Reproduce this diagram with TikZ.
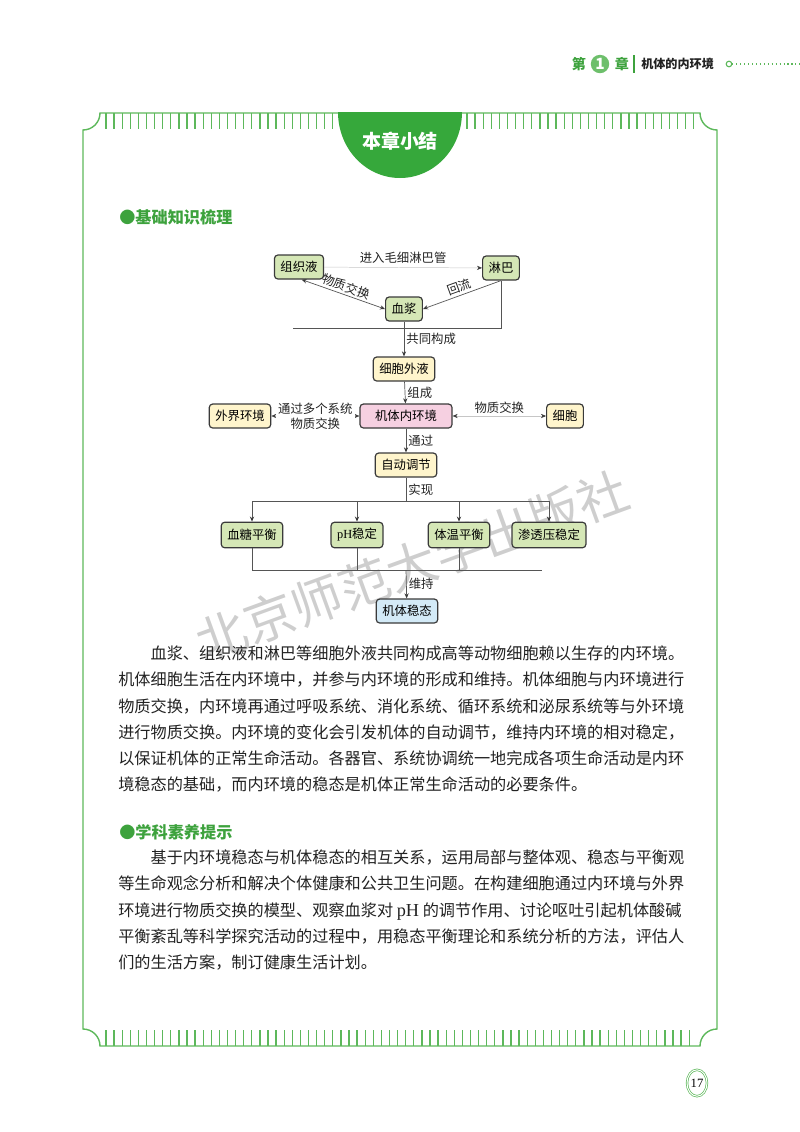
\documentclass[tikz,border=0pt]{standalone}
\usepackage{fontspec}
\usepackage{xcolor}
\usepackage{tikz}
\usetikzlibrary{arrows.meta,shapes.geometric}
\setmainfont{Noto Sans CJK SC}
\newfontfamily\latinserif{Liberation Serif}
\definecolor{framegreen}{HTML}{5DB85B}
\definecolor{tabgreen}{HTML}{36A83B}
\definecolor{headgreen}{HTML}{3DA23D}
\definecolor{leaf}{HTML}{D5E7B6}
\definecolor{cream}{HTML}{FFF5CC}
\definecolor{blush}{HTML}{F6D0E1}
\definecolor{icy}{HTML}{D3EAF7}
\definecolor{boxline}{HTML}{3A3A3A}
\definecolor{wire}{HTML}{555555}
\definecolor{inktext}{HTML}{222222}
\newcommand\diagfont{\fontsize{8.8pt}{10.5pt}\selectfont}
\newcommand\bodyfont{\fontsize{11.5pt}{18.5pt}\selectfont}
\tikzset{
  box/.style={draw=boxline,line width=0.85pt,rounded corners=2.5pt,minimum height=0.6cm,
              inner xsep=0.15cm,inner ysep=0pt,font=\diagfont},
  gbox/.style={box,fill=leaf},
  ybox/.style={box,fill=cream},
  lnk/.style={draw=wire,line width=0.5pt},
  faint/.style={draw=gray!45,line width=0.35pt},
  arr/.style={lnk,-{Stealth[length=3.6pt,width=3pt,color=boxline]}},
  twoway/.style={lnk,{Stealth[length=3.6pt,width=3pt,color=boxline]}-{Stealth[length=3.6pt,width=3pt,color=boxline]}},
  lbl/.style={font=\diagfont,inner sep=1.5pt,text=inktext},
  tick/.style={framegreen,line width=0.9pt},
  head/.style={font=\fontsize{11.5pt}{13pt}\selectfont\bfseries,text=headgreen,inner sep=0pt},
  para/.style={font=\bodyfont,text=inktext,align=left,inner sep=0pt,anchor=north west},
  stamp/.style={font=\fontsize{36pt}{40pt}\selectfont,text=black!35,opacity=0.55},
}
\begin{document}
\begin{tikzpicture}[x=0.025cm,y=-0.025cm]
  \useasboundingbox (0,0) rectangle (800,1132);
  % running head
  \node[font=\fontsize{10pt}{11pt}\selectfont\bfseries,text=headgreen] (di) at (579,64) {第};
  \node[circle,fill=framegreen!90,inner sep=0pt,minimum size=0.46cm,text=white,
        font=\fontsize{11pt}{12pt}\selectfont\bfseries] (num) at (600,64) {1};
  \node[font=\fontsize{10pt}{11pt}\selectfont\bfseries,text=headgreen] (zhang) at (622,64) {章};
  \draw[headgreen,line width=1pt] (634,55) -- (634,73);
  \node[anchor=west,font=\fontsize{8.6pt}{10pt}\selectfont\bfseries,text=inktext,inner sep=0pt] (ctitle) at (641,64) {机体的内环境};
  \node[circle,draw=framegreen,line width=0.8pt,inner sep=0pt,minimum size=0.14cm] (dotend) at (729,64) {};
  \coordinate (pageedge) at (800,64);
  \draw[framegreen,dotted,line width=0.8pt] (dotend) -- (pageedge);
  % frame
  \draw[framegreen,line width=1pt] (83,1029) -- (83,130) .. controls (92.4,130) and (100,122.4) .. (100,113)
    -- (700,113) .. controls (700,122.4) and (707.6,130) .. (717,130) -- (717,1029)
    .. controls (707.6,1029) and (700,1036.6) .. (700,1046) -- (100,1046)
    .. controls (100,1036.6) and (92.4,1029) .. (83,1029) -- cycle;
  \foreach \x in {106,114.1,...,336} \draw[tick] (\x,113) -- (\x,129);
  \foreach \x in {467,475.1,...,697} \draw[tick] (\x,113) -- (\x,129);
  \foreach \x in {106,114.1,...,697} \draw[tick] (\x,1030) -- (\x,1046);
  \fill[tabgreen] (338,112) .. controls (338,149) and (366,178) .. (400,178)
    .. controls (434,178) and (462,149) .. (462,112) -- cycle;
  \node[text=white,font=\fontsize{13.5pt}{15pt}\selectfont\bfseries] (title) at (400,141) {本章小结};
  \node[stamp,rotate=20] (press) at (412,566) {北京师范大学出版社};
  \node[head,anchor=west] (basics) at (119,217) {●基础知识梳理};
  % concept map
  \node[gbox] (tissue) at (299,267) {组织液};
  \node[gbox] (lymph) at (501,268) {淋巴};
  \node[gbox] (plasma) at (404,309) {血浆};
  \node[ybox] (extra) at (404,369) {细胞外液};
  \node[box,fill=blush,minimum width=2.3cm] (inner) at (406,416) {机体内环境};
  \node[ybox] (outside) at (240,416) {外界环境};
  \node[ybox] (cell) at (565,416) {细胞};
  \node[ybox] (regul) at (406,465) {自动调节};
  \foreach \n/\t/\x in {sugar/血糖平衡/252, ph/{{\latinserif pH}稳定}/357, temp/体温平衡/459, osmo/渗透压稳定/549}
    \node[gbox,minimum height=0.64cm] (\n) at (\x,535) {\t};
  \node[box,fill=icy] (steady) at (407,611) {机体稳态};
  \draw[faint,-{Stealth[length=3.6pt,width=3pt,color=boxline]}] (tissue) -- (lymph)
    node[lbl,above,midway,yshift=1pt] {进入毛细淋巴管};
  \draw[twoway] (tissue.-78) -- (plasma.west) node[lbl,sloped,above,midway] {物质交换};
  \draw[arr] (lymph.south) -- (plasma.east) node[lbl,sloped,above,midway] {回流};
  \coordinate (cross) at (293,328);
  \draw[lnk] (lymph.south) |- (cross);
  \draw[arr] (plasma) -- (extra) node[lbl,right,midway] {共同构成};
  \draw[arr] (extra) -- (inner) node[lbl,right,midway] {组成};
  \draw[faint,{Stealth[length=3.6pt,width=3pt,color=boxline]}-{Stealth[length=3.6pt,width=3pt,color=boxline]}]
    (outside) -- (inner) node[lbl,fill=white,align=center,midway] {通过多个系统\\物质交换};
  \draw[faint,{Stealth[length=3.6pt,width=3pt,color=boxline]}-{Stealth[length=3.6pt,width=3pt,color=boxline]}]
    (inner) -- (cell) node[lbl,above,midway] {物质交换};
  \draw[arr] (inner) -- (regul) node[lbl,right,midway] {通过};
  \coordinate (split) at (406,501);
  \draw[lnk] (regul) -- (split) node[lbl,right,midway] {实现};
  \draw[lnk] (sugar.north |- split) -- (osmo.north |- split);
  \foreach \n in {sugar,ph,temp,osmo} \draw[arr] (\n.north |- split) -- (\n.north);
  \coordinate (join) at (406,570);
  \coordinate (joinend) at (542,570);
  \foreach \n in {sugar,ph,temp} \draw[lnk] (\n.south) -- (\n.south |- join);
  \draw[lnk] (sugar.south |- join) -- (joinend);
  \draw[arr] (join) -- (steady) node[lbl,right,midway] {维持};
  % summary text
  \node[para] (summary) at (118,646) {\hspace*{2em}血浆、组织液和淋巴等细胞外液共同构成高等动物细胞赖以生存的内环境。\\%
机体细胞生活在内环境中，并参与内环境的形成和维持。机体细胞与内环境进行\\%
物质交换，内环境再通过呼吸系统、消化系统、循环系统和泌尿系统等与外环境\\%
进行物质交换。内环境的变化会引发机体的自动调节，维持内环境的相对稳定，\\%
以保证机体的正常生命活动。各器官、系统协调统一地完成各项生命活动是内环\\%
境稳态的基础，而内环境的稳态是机体正常生命活动的必要条件。};
  \node[head,anchor=west] (literacy) at (119,832) {●学科素养提示};
  \node[para] (hint) at (118,850) {\hspace*{2em}基于内环境稳态与机体稳态的相互关系，运用局部与整体观、稳态与平衡观\\%
等生命观念分析和解决个体健康和公共卫生问题。在构建细胞通过内环境与外界\\%
环境进行物质交换的模型、观察血浆对 {\latinserif\fontsize{13pt}{18pt}\selectfont pH} 的调节作用、讨论呕吐引起机体酸碱\\%
平衡紊乱等科学探究活动的过程中，用稳态平衡理论和系统分析的方法，评估人\\%
们的生活方案，制订健康生活计划。};
  \node[ellipse,draw=framegreen,double,double distance=0.7pt,line width=0.5pt,inner sep=0pt,
        minimum width=0.5cm,minimum height=0.66cm,font=\latinserif\fontsize{9pt}{10pt}\selectfont] (folio) at (697,1083) {17};
\end{tikzpicture}
\end{document}
